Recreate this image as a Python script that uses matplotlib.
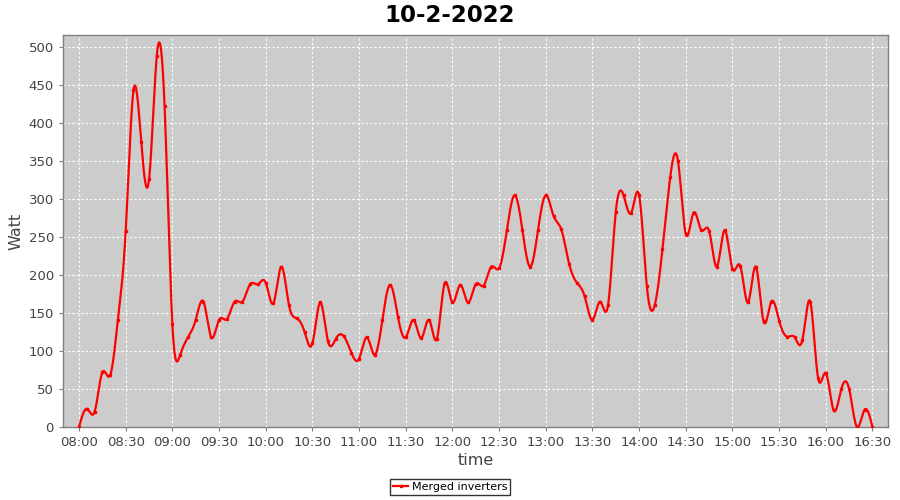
import numpy as np
import pandas as pd
import matplotlib
matplotlib.use("Agg")
from matplotlib import pyplot as plt
from matplotlib.ticker import MultipleLocator, FuncFormatter

title = "10-2-2022"
series_name = "Merged inverters"

# one reading every 5 minutes, 08:00 .. 16:30
times = pd.date_range("2022-02-10 08:00", "2022-02-10 16:30", freq="5min")
watts = [
    0, 24, 20, 72, 68, 141, 258, 443, 375, 326,
    489, 422, 135, 95, 118, 141, 165, 118, 141, 142,
    165, 165, 188, 188, 190, 163, 211, 160, 143, 125,
    110, 164, 113, 116, 120, 98, 90, 118, 95, 141,
    187, 145, 118, 141, 117, 141, 116, 189, 164, 187,
    164, 188, 186, 211, 209, 259, 305, 259, 211, 259,
    305, 278, 260, 215, 190, 172, 141, 165, 160, 283,
    305, 282, 305, 185, 160, 234, 329, 350, 254, 282,
    259, 258, 211, 259, 208, 212, 164, 211, 139, 165,
    140, 119, 118, 115, 165, 65, 71, 22, 50, 50,
    0, 23, 0,
]


def natural_spline(x, y, n=3000):
    # natural cubic spline, like the smooth renderer of the original chart
    x = np.asarray(x, float)
    y = np.asarray(y, float)
    h = np.diff(x)
    m = len(x)
    A = np.zeros((m, m))
    r = np.zeros(m)
    A[0, 0] = A[-1, -1] = 1
    for i in range(1, m - 1):
        A[i, i - 1] = h[i - 1]
        A[i, i] = 2 * (h[i - 1] + h[i])
        A[i, i + 1] = h[i]
        r[i] = 6 * ((y[i + 1] - y[i]) / h[i] - (y[i] - y[i - 1]) / h[i - 1])
    M = np.linalg.solve(A, r)
    xs = np.linspace(x[0], x[-1], n)
    idx = np.clip(np.searchsorted(x, xs) - 1, 0, m - 2)
    x0, x1 = x[idx], x[idx + 1]
    hh = x1 - x0
    a = (x1 - xs) / hh
    b = (xs - x0) / hh
    ys = (a * y[idx] + b * y[idx + 1]
          + ((a ** 3 - a) * M[idx] + (b ** 3 - b) * M[idx + 1]) * hh ** 2 / 6)
    return xs, ys


minutes = np.array((times - times[0]).total_seconds() / 60.0)
xs, ys = natural_spline(minutes, watts)

plt.rcParams['font.family'] = ['DejaVu Sans']
fig = plt.figure(figsize=(9, 5), dpi=100)
ax = fig.add_axes([0.07, 0.146, 0.9167, 0.784])
ax.set_facecolor("#cccccc")

ax.plot(xs, ys, color="#ff0000", lw=1.6, zorder=3)
ax.plot(minutes, watts, ls="none", marker="s", ms=1.5, color="#ff0000", zorder=4)

ax.set_xlim(-10.3, 520)
ax.set_ylim(0, 516)
ax.xaxis.set_major_locator(MultipleLocator(30))
ax.yaxis.set_major_locator(MultipleLocator(50))
base = times[0]
ax.xaxis.set_major_formatter(FuncFormatter(
    lambda v, p: (base + pd.Timedelta(minutes=v)).strftime("%H:%M")))

ax.grid(True, color="white", ls=(0, (2, 2)), lw=0.8)
ax.set_axisbelow(True)
for s in ax.spines.values():
    s.set_color("#808080")
    s.set_linewidth(1)
ax.tick_params(colors="#808080", labelcolor="#444444", labelsize=9.5, length=3)

ax.set_xlabel("time", fontsize=11.5, color="#444444", labelpad=3)
ax.set_ylabel("Watt", fontsize=11.5, color="#444444", labelpad=4)
fig.suptitle(title, fontsize=16.5, fontweight="bold", y=0.993)

leg = fig.legend([plt.Line2D([], [], color="#ff0000", lw=1.6, marker="s", ms=1.5)],
                 [series_name], loc="center", bbox_to_anchor=(0.5, 0.026),
                 fontsize=8, frameon=True, fancybox=False, handlelength=1.4,
                 handletextpad=0.3, borderpad=0.25)
leg.get_frame().set_edgecolor("black")
leg.get_frame().set_linewidth(1)

fig.savefig("out.png", dpi=100)
